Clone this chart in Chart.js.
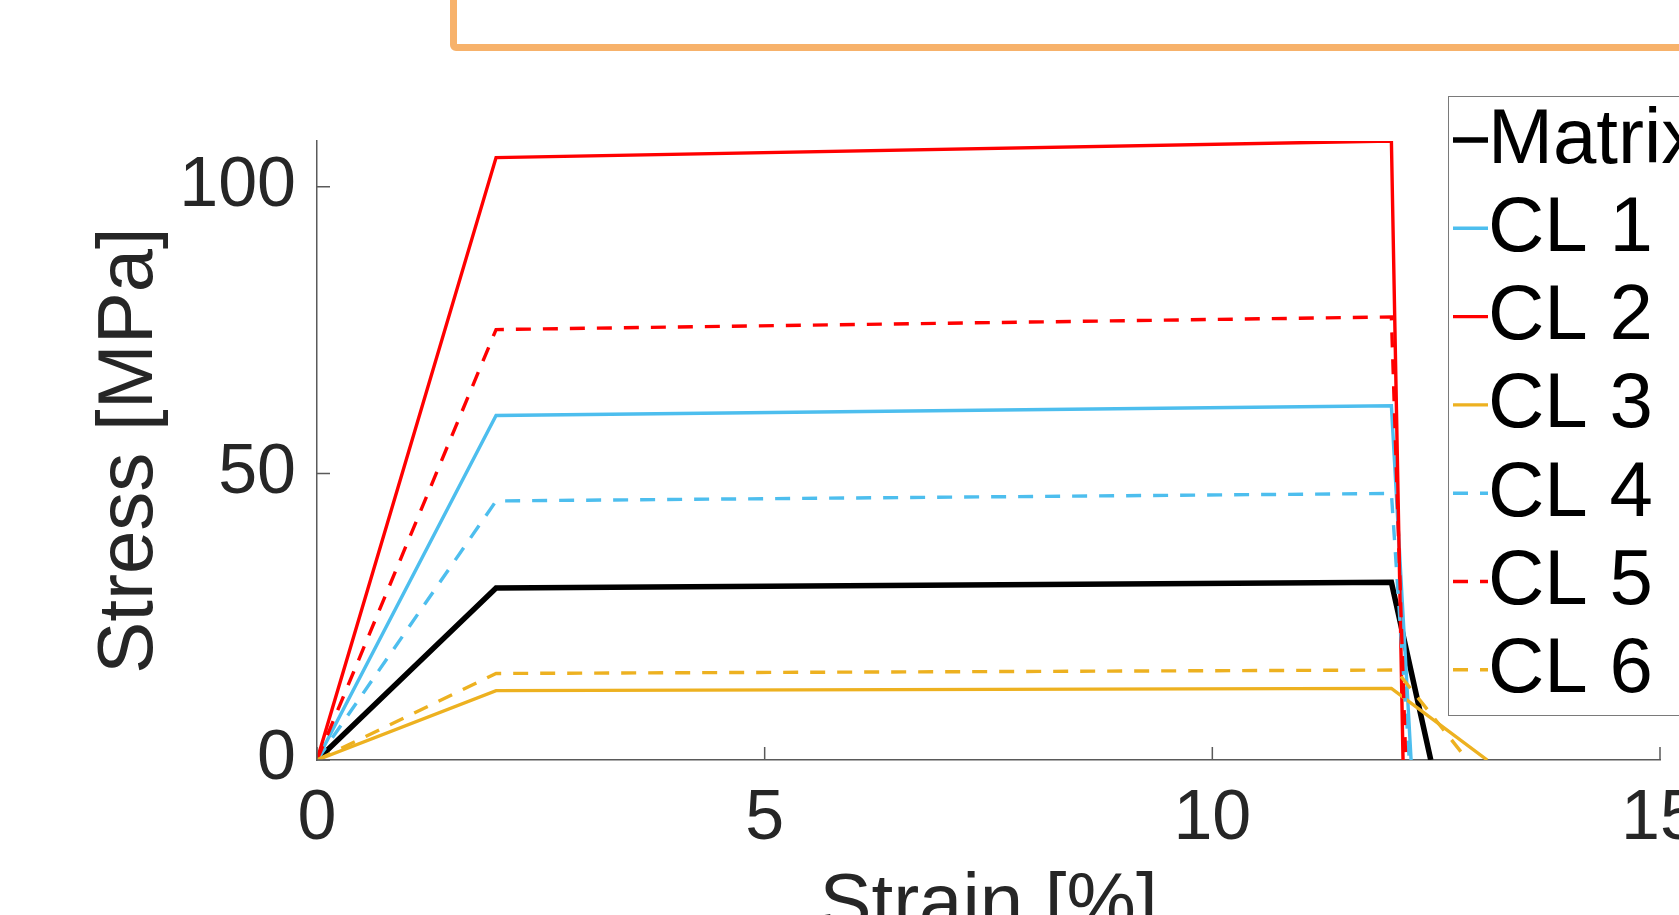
<!DOCTYPE html>
<html>
<head>
<meta charset="utf-8">
<script src="https://cdn.jsdelivr.net/npm/chart.js@4.4.1/dist/chart.umd.min.js"></script>
<style>
  html, body { margin: 0; padding: 0; background: #fff; overflow: hidden; }
  #wrap { position: relative; width: 1679px; height: 915px; overflow: hidden; }
  #stressChart { position: absolute; left: 0; top: 0; }
  #topPanel { position: absolute; left: 450px; top: -20px; width: 1400px; height: 71px;
              box-sizing: border-box; border: 7px solid #f7b26b; border-radius: 6px; }
</style>
</head>
<body>
<div id="wrap">
  <canvas id="stressChart" width="1760" height="1000"></canvas>
  <div id="topPanel"></div>
</div>
<script>
// series (strain in %, stress in MPa)
const seriesLabels = ['Matrix', 'CL 1', 'CL 2', 'CL 3', 'CL 4', 'CL 5', 'CL 6'];

const strainMatrix = [0, 2, 12, 12.44];
const stressMatrix = [0, 30.0, 31.0, 0];

const strainCL1 = [0, 2, 12, 12.22];
const stressCL1 = [0, 60.1, 61.8, 0];

const strainCL2 = [0, 2, 12, 12.13];
const stressCL2 = [0, 105.1, 108.0, 0];

const strainCL3 = [0, 2, 12, 13.07];
const stressCL3 = [0, 12.1, 12.5, 0];

const strainCL4 = [0, 2, 12, 12.2];
const stressCL4 = [0, 45.2, 46.5, 0];

const strainCL5 = [0, 2, 12, 12.16];
const stressCL5 = [0, 75.1, 77.3, 0];

const strainCL6 = [0, 2, 12.05, 12.85];
const stressCL6 = [0, 15.1, 15.7, 0];

const xTickValues = [0, 5, 10, 15];
const yTickValues = [0, 50, 100];

const BLACK = '#000000';
const BLUE = '#4dbeee';
const RED = '#ff0000';
const YELLOW = '#edb120';
const DASH = [15, 12];
const FONT = '"Liberation Sans", Arial, Helvetica, sans-serif';
const AXIS_COLOR = '#5a5a5a';

function pts(xs, ys) {
    return xs.map((x, i) => ({ x: x, y: ys[i] }));
}

const seriesData = [
    [strainMatrix, stressMatrix, BLACK, [], 5.5],
    [strainCL1, stressCL1, BLUE, [], 3.4],
    [strainCL2, stressCL2, RED, [], 3.4],
    [strainCL3, stressCL3, YELLOW, [], 3.4],
    [strainCL4, stressCL4, BLUE, DASH, 3.4],
    [strainCL5, stressCL5, RED, DASH, 3.4],
    [strainCL6, stressCL6, YELLOW, DASH, 3.4]
];

const datasets = seriesData.map((s, i) => ({
    label: seriesLabels[i],
    data: pts(s[0], s[1]),
    borderColor: s[2],
    backgroundColor: s[2],
    borderDash: s[3],
    borderWidth: s[4],
    pointRadius: 0,
    tension: 0,
    fill: false,
    order: -i   // later series on top, like the original
}));

// inward tick marks + boxed legend
const matlabLook = {
    id: 'matlabLook',
    afterDraw(chart) {
        const c = chart.ctx;
        const xs = chart.scales.x, ys = chart.scales.y;
        const area = chart.chartArea;
        c.save();
        c.strokeStyle = AXIS_COLOR;
        c.lineWidth = 1.5;
        c.beginPath();
        xTickValues.forEach(v => {
            const px = xs.getPixelForValue(v);
            c.moveTo(px, area.bottom);
            c.lineTo(px, area.bottom - 13);
        });
        yTickValues.forEach(v => {
            const py = ys.getPixelForValue(v);
            c.moveTo(area.left, py);
            c.lineTo(area.left + 13, py);
        });
        c.stroke();

        // legend
        const boxL = 1448.5, boxT = 96.5, boxR = 1740, boxB = 715.5;
        c.fillStyle = '#ffffff';
        c.fillRect(boxL, boxT, boxR - boxL, boxB - boxT);
        c.strokeStyle = '#7a7a7a';
        c.lineWidth = 1;
        c.strokeRect(boxL, boxT, boxR - boxL, boxB - boxT);
        c.font = '78px ' + FONT;
        c.textBaseline = 'middle';
        c.textAlign = 'left';
        chart.data.datasets.forEach((ds, i) => {
            const cy = 140 + 88.3 * i;
            c.save();
            c.beginPath();
            c.rect(1453, cy - 10, 35, 20);
            c.clip();
            c.strokeStyle = ds.borderColor;
            c.lineWidth = ds.borderWidth;
            c.setLineDash(ds.borderDash);
            c.beginPath();
            c.moveTo(1453, cy);
            c.lineTo(1490, cy);
            c.stroke();
            c.restore();
            c.fillStyle = '#000000';
            c.fillText(ds.label, 1488, cy + 1);
        });
        c.restore();
    }
};

const ctx = document.getElementById('stressChart').getContext('2d');
const chart = new Chart(ctx, {
    type: 'line',
    data: { datasets: datasets },
    options: {
        responsive: false,
        animation: false,
        layout: { padding: { top: 141, right: 100, bottom: 0, left: 0 } },
        plugins: { legend: { display: false }, tooltip: { enabled: false } },
        scales: {
            x: {
                type: 'linear',
                min: 0,
                max: 15,
                afterFit: s => { s.height = 240; },
                afterBuildTicks: s => { s.ticks = xTickValues.map(v => ({ value: v })); },
                grid: { display: true, drawOnChartArea: false, drawTicks: false },
                border: { display: true, color: AXIS_COLOR, width: 1.5 },
                ticks: {
                    padding: 18,
                    maxRotation: 0,
                    autoSkip: false,
                    color: '#262626',
                    font: { family: FONT, size: 70 }
                },
                title: {
                    display: true,
                    text: 'Strain [%]',
                    color: '#262626',
                    font: { family: FONT, size: 78 },
                    padding: { top: 0, bottom: 47 }
                }
            },
            y: {
                type: 'linear',
                min: 0,
                max: 108,
                afterFit: s => { s.width = 317; },
                afterBuildTicks: s => { s.ticks = yTickValues.map(v => ({ value: v })); },
                grid: { display: true, drawOnChartArea: false, drawTicks: false },
                border: { display: true, color: AXIS_COLOR, width: 1.5 },
                ticks: {
                    padding: 21,
                    color: '#262626',
                    font: { family: FONT, size: 70 }
                },
                title: {
                    display: true,
                    text: 'Stress [MPa]',
                    color: '#262626',
                    font: { family: FONT, size: 78 },
                    padding: { top: 84, bottom: 0 }
                }
            }
        }
    },
    plugins: [matlabLook]
});
</script>
</body>
</html>
